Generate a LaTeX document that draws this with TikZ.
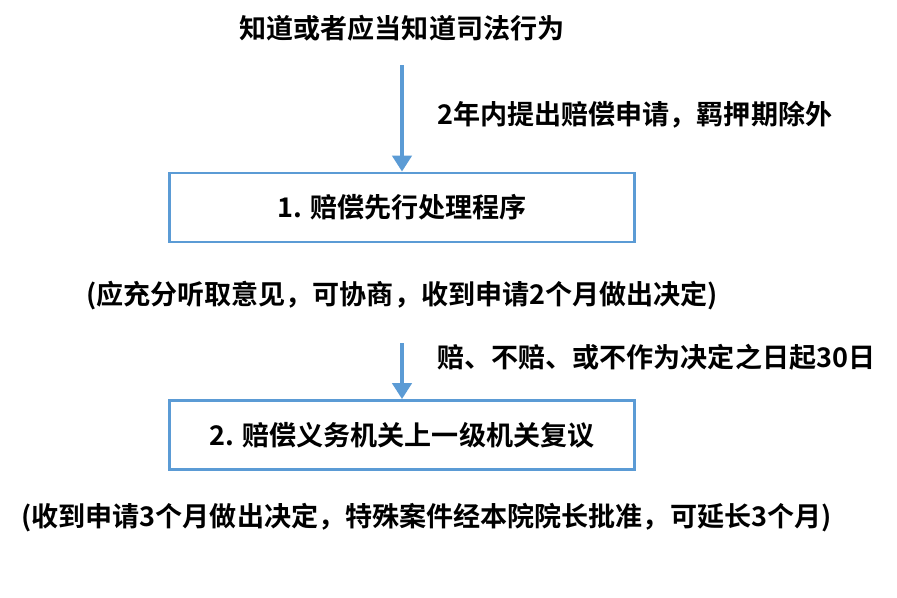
\documentclass[tikz,border=0pt]{standalone}
\usepackage{fontspec}
\newfontfamily\cjk{Noto Sans CJK SC}[BoldFont={* Bold}]
\usetikzlibrary{positioning,arrows.meta}
\definecolor{lineblue}{HTML}{5B9BD5}
\tikzset{
  txt/.style={font=\cjk\bfseries\fontsize{15.4pt}{18pt}\selectfont, inner sep=0pt},
  stagebox/.style={draw=lineblue, line width=1.7pt, minimum width=9.3cm, minimum height=1.38cm, txt},
  flow/.style={draw=lineblue, line width=1.8pt, -{Triangle[length=9pt,width=11pt]}}
}
\begin{document}
\begin{tikzpicture}
        \useasboundingbox (0,0) rectangle (17.94,-11.94);
        \node[txt] (start) at (8.04,-0.56) {知道或者应当知道司法行为};
        \coordinate (starttop) at (8.04,-1.3);
        \node[stagebox] (first) at (8.04,-4.15) {1. 赔偿先行处理程序};
        \node[txt] (firstnote) at (8.04,-5.92) {(应充分听取意见，可协商，收到申请2个月做出决定)};
        \coordinate (firstbot) at (8.04,-6.86);
        \node[stagebox] (second) at (8.04,-8.7) {2. 赔偿义务机关上一级机关复议};
        \node[txt] (secondnote) at (8.53,-10.36) {(收到申请3个月做出决定，特殊案件经本院院长批准，可延长3个月)};
        \draw[flow] (starttop)--(first.north);
        \draw[flow] (firstbot)--(second.north);
        \node[txt, anchor=west] (limit) at (8.74,-2.3) {2年内提出赔偿申请，羁押期除外};
        \node[txt, anchor=west] (review) at (8.74,-7.14) {赔、不赔、或不作为决定之日起30日};
\end{tikzpicture}
\end{document}
